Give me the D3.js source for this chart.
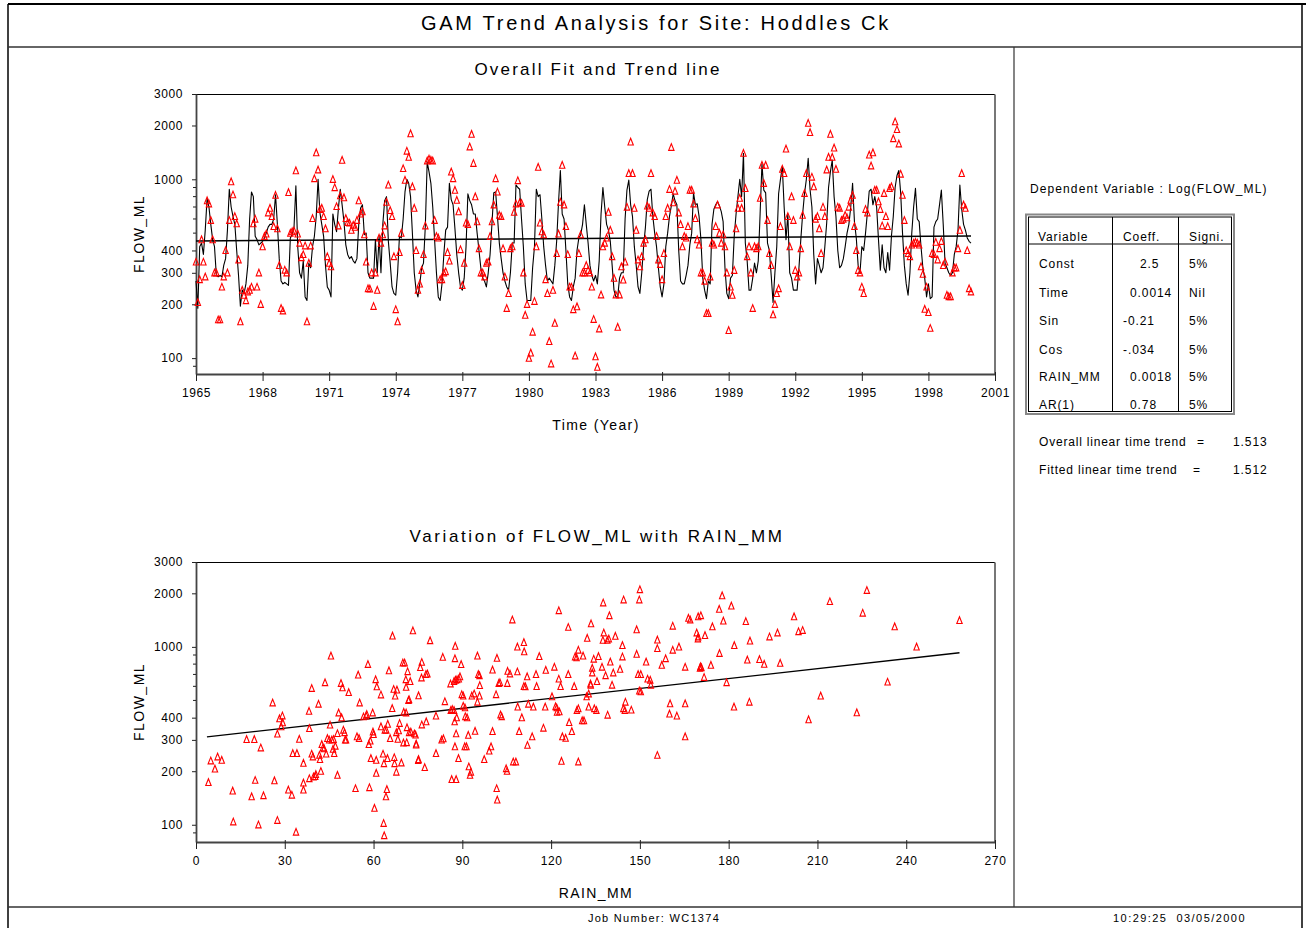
<!DOCTYPE html>
<html><head><meta charset="utf-8">
<script src="https://cdn.jsdelivr.net/npm/d3@7"></script>
<style>
html,body{margin:0;padding:0;background:#fff;}
svg{display:block;font-family:Arial,"Liberation Sans",sans-serif;}
</style></head><body>
<svg id="c" width="1306" height="928"></svg>
<script>
// ---------------- DATA ----------------
const yearTicks = [1965,1968,1971,1974,1977,1980,1983,1986,1989,1992,1995,1998,2001];
const flowTicks = [100,200,300,400,1000,2000,3000];
const flowMinorTicks = [90,500,600,700,800,900];
const rainTicks = [0,30,60,90,120,150,180,210,240,270];
const firstYear = 1965;

// GAM fitted FLOW_ML, one row per year (Jan..Dec), 1965-1999
const fittedByYear = [
[270,190,420,440,380,520,780,700,560,460,420,290],
[285,290,285,330,360,520,880,700,620,560,400,290],
[195,240,230,260,330,600,850,800,480,460,430,440],
[450,470,500,540,560,560,600,820,560,360,270,260],
[265,260,255,470,490,540,920,420,300,280,350,220],
[210,340,320,420,480,620,1000,650,560,480,330,250],
[240,220,640,560,510,690,880,720,580,430,380,360],
[370,350,340,360,560,690,720,490,500,300,280,280],
[280,460,300,480,300,560,760,800,450,340,250,230],
[225,300,480,470,600,850,1000,950,800,500,300,240],
[220,260,320,340,550,1250,1100,950,700,460,300,220],
[210,260,380,520,540,950,770,720,530,380,300,250],
[240,280,420,830,760,720,640,640,500,400,320,280],
[270,250,300,380,560,840,850,620,440,360,300,270],
[250,240,300,440,440,930,900,880,600,420,260,210],
[210,210,320,420,880,800,820,600,420,330,270,280],
[270,260,330,450,740,1120,640,600,400,260,220,210],
[250,280,400,470,490,560,720,560,440,330,290,270],
[290,260,350,640,900,700,560,520,450,330,240,220],
[220,280,300,300,600,870,990,720,620,420,330,250],
[230,300,420,540,770,860,880,620,500,420,320,250],
[220,260,420,500,620,710,830,760,720,400,270,260],
[260,290,330,430,500,840,720,730,620,460,280,240],
[215,270,260,560,680,720,750,710,660,580,320,230],
[215,280,290,480,640,800,1000,800,1400,440,350,240],
[240,280,340,300,350,640,1220,870,840,440,400,290],
[205,300,420,830,1000,1180,700,460,640,300,280,240],
[240,240,320,460,640,830,1000,1310,880,700,380,260],
[360,330,300,320,420,570,900,1100,1280,800,620,400],
[320,330,360,420,500,560,700,950,580,470,330,300],
[420,400,500,650,860,880,720,800,700,460,310,430],
[320,300,390,310,480,620,900,1050,1120,840,500,330],
[260,225,300,500,700,890,600,580,420,320,280,220],
[260,215,220,540,580,600,720,870,560,340,320,300],
[290,300,380,420,520,930,680,560,520,470,450,440]
];

// Observed FLOW_ML, one row per year (Jan..Dec), 1965-1999
const observedByYear = [
[345,205,275,460,345,285,760,730,590,460,300,300],
[164,164,250,285,400,300,590,970,820,620,565,355],
[160,240,225,210,235,240,250,565,600,250,300,200],
[420,480,495,650,690,620,545,815,530,330,190,184],
[311,300,845,500,510,515,1118,495,440,365,380,425],
[160,340,425,605,1010,1410,1130,680,690,620,530,370],
[340,325,1000,900,705,550,810,1280,790,605,575,570],
[520,555,540,590,760,640,660,490,345,245,244,300],
[195,300,240,470,440,490,550,745,930,670,620,370],
[187,160,390,500,1150,990,1440,1330,1800,910,690,400],
[240,260,310,380,550,1270,1300,1280,1270,590,480,470],
[275,275,300,305,390,350,1100,1010,870,765,660,405],
[255,340,570,560,1520,1790,1230,800,580,410,300,300],
[285,340,345,480,580,720,1010,850,630,620,410,285],
[190,230,410,420,655,730,985,740,735,300,174,200],
[100,107,140,208,420,1170,570,510,490,275,230,124],
[93,240,157,385,495,745,1200,720,545,380,250,250],
[187,103,194,385,490,300,300,330,310,300,250,165],
[102,89,146,226,420,440,470,655,520,370,280,226],
[149,226,325,274,345,700,1080,1620,1080,690,520,355],
[325,370,440,460,710,690,1080,650,620,480,355,335],
[275,385,620,690,880,1510,740,860,990,650,560,420],
[480,470,545,870,870,730,605,460,430,300,300,270],
[178,178,285,440,430,545,720,500,440,490,420,300],
[143,250,225,310,530,690,785,690,1400,890,370,420],
[300,190,420,410,420,785,1200,950,1200,590,385,330],
[175,200,230,245,545,1140,1080,1480,620,420,800,590],
[310,285,300,410,630,835,1080,2060,1830,1030,910,600],
[620,530,385,700,620,1130,1330,1790,1330,1500,1140,700],
[690,590,600,630,610,700,765,815,545,400,310,300],
[250,230,680,650,1370,1190,1410,870,870,750,680,550],
[835,620,545,890,910,1690,2100,1900,1580,1070,815,590],
[400,385,370,430,440,445,440,430,325,295,188,250],
[180,147,385,380,445,355,410,450,330,345,225,221],
[221,300,320,320,410,520,1080,720,690,400,245,235]
];

// linear time trend end points [year, flow]
const timeTrend = [[1965, 452], [1999.92, 482]];

// scatter: [RAIN_MM, FLOW_ML]
const rainFlow = [
[4.2,173],[5,229],[6.4,206],[7.3,241],[8.7,231],[12.4,155],[12.6,104],[17.1,302],[18.8,144],[19.7,302],
[20,178],[21.1,100],[21.9,271],[22.8,146],[25.9,485],[26.5,177],[27.5,324],[27.5,106],[28.2,395],[28.8,356],
[29.2,410],[29.3,375],[31.2,157],[32.4,147],[32.7,252],[34.1,252],[33.8,91],[34.9,303],[36.3,222],[36.3,157],
[36.3,172],[38.2,435],[38.3,348],[38.3,182],[39.1,585],[39.1,250],[39.5,241],[39.7,186],[40.3,187],[40.5,192],
[41.4,477],[41.7,246],[41.9,233],[42.2,200],[42.5,283],[42.9,271],[43.3,268],[43.6,630],[44,250],[44.4,306],
[45,300],[45.3,364],[45.6,890],[45.9,300],[46.3,266],[46.5,302],[46.7,252],[47.1,277],[47.8,190],[47.8,326],
[48.2,426],[49,624],[49.2,400],[49.5,590],[49.8,341],[50.2,330],[50.4,300],[50.7,300],[51.6,555],[53.9,160],
[54.4,313],[54.8,696],[55.1,306],[55.3,485],[56.6,405],[57.5,409],[57.7,418],[58.1,798],[58.4,283],[58.6,162],
[58.9,296],[59.1,236],[59.7,426],[59.8,333],[60,322],[60.3,124],[60.7,655],[60.9,231],[60.9,195],[61.1,598],
[62.5,538],[62.5,356],[63.2,250],[63.4,102],[63.5,221],[63.6,87],[63.8,341],[64.2,144],[64.3,341],[64.5,158],
[64.7,236],[64.8,368],[65.2,735],[65.6,306],[66.3,451],[66.4,1153],[66.8,578],[67,239],[67.1,221],[67.3,530],
[67.7,330],[67.7,198],[67.9,573],[68.2,303],[68.5,338],[68.8,372],[69.4,223],[69.9,814],[70.1,289],[70.5,814],
[70.9,655],[71,426],[71.3,352],[71.5,727],[72,506],[72.4,640],[72.6,333],[73.3,1233],[74.2,320],[74.4,281],
[75.2,532],[75.2,233],[75.8,767],[71,594],[71.8,500],[70.2,430],[72,330],[73.8,325],[71.2,290],[74.4,285],
[75.1,230],[77.3,210],[76.3,365],[77.8,380],[76.2,670],[77.7,700],[78.2,705],[76.3,820],[79.1,1085],[81.1,409],
[81.1,252],[83,300],[83.6,305],[83.4,875],[84.1,493],[86,620],[87.2,640],[87.7,650],[88.2,655],[88.8,660],
[86.1,440],[86.6,445],[87.2,440],[87.4,380],[88.1,400],[87.5,860],[87.6,1010],[87.5,275],[87.9,325],[88.7,236],
[86.4,180],[87.9,180],[89.2,680],[89.6,797],[89.8,540],[90.3,530],[90.3,465],[90.9,455],[90.8,275],[91.4,275],
[91,406],[91.6,400],[92,319],[92.2,212],[92.6,190],[92.9,198],[93.2,530],[94,545],[94.3,336],[95.1,890],
[95.4,700],[95.8,690],[95.9,607],[95.8,530],[95.1,490],[97.4,233],[99.1,260],[99.7,275],[100.2,335],[100.2,742],
[101.4,540],[101.7,865],[101.6,160],[101.8,138],[102.3,624],[102.7,630],[102.9,415],[103.3,406],[104.8,207],[105.1,200],
[105.2,624],[105.3,730],[106.1,706],[106.9,1420],[107.2,226],[108.1,226],[108.6,1000],[108.6,725],[108.7,460],[109.2,335],
[110.1,400],[110.8,600],[111.3,598],[110.8,1060],[110.9,940],[111.9,680],[112,280],[112.3,477],[113.6,313],[114,460],
[114.9,700],[115.1,600],[116,884],[117.4,350],[118,460],[118.2,740],[120.3,525],[121.1,770],[121.5,462],[121.9,455],
[122,430],[122.8,432],[122.6,660],[122.6,1600],[123.2,600],[123.5,228],[123.8,313],[124.9,307],[125.8,1290],[125.8,700],
[126.1,376],[127,335],[127.8,600],[128.1,880],[128.6,870],[128.7,440],[129.2,450],[129.2,960],[129.2,226],[130.5,385],
[131.1,385],[130.8,890],[132,525],[132.2,1120],[132.7,545],[132.7,460],[133.3,620],[133.9,760],[133.9,715],[133.4,610],
[133.5,1350],[134.4,855],[134.6,450],[135.3,440],[135.5,640],[136,884],[137.2,770],[137.5,1090],[137.8,1200],[138.4,690],
[139,1090],[139.1,414],[139.5,1110],[139.7,1500],[137.6,1770],[140,824],[140.6,610],[141,715],[141.7,1150],[143.3,750],
[144.1,1020],[144.1,880],[144.4,450],[144.9,440],[144.5,1840],[145.1,490],[147.1,442],[148.9,1250],[148.9,910],[149.4,700],
[150.3,700],[149.8,1840],[150,2100],[149.8,566],[150.3,560],[152.1,824],[152.6,660],[153.5,650],[153.7,610],[155.9,1095],
[155.9,980],[155.9,246],[157.4,790],[158.7,860],[160.2,480],[160,420],[161.1,1310],[161.1,960],[162.5,409],[163.2,1000],
[165.3,770],[165.3,480],[165.3,313],[166.4,1450],[169.2,1200],[169.7,1140],[170.3,760],[169.7,1480],[167,1420],[169.6,1110],
[170.6,1500],[172,1160],[170.5,775],[170.8,765],[171.7,675],[174,790],[174.5,1300],[176.8,1630],[176.9,920],[177.8,1940],
[178.2,1400],[179.3,630],[180.9,1700],[181.9,1020],[181.8,460],[185.8,1390],[186.3,845],[187,490],[187.2,1080],[190.4,850],
[192,800],[193.8,1140],[196.5,1200],[197.4,810],[202.1,1480],[203.6,1220],[205,1240],[207,390],[211.1,530],[214.2,1800],
[223.3,427],[225.3,1550],[226.7,2080],[233.7,635],[236.1,1300],[243.5,1000],[258,1410]
];
// fitted rain relationship end points [RAIN_MM, FLOW_ML]
const rainTrend = [[3.7, 312], [258, 927]];

// right panel
const tableVariables = ["Const","Time","Sin","Cos","RAIN_MM","AR(1)"];
const tableCoeffs = ["2.5","0.0014","-0.21","-.034","0.0018","0.78"];
const tableSignif = ["5%","Nil","5%","5%","5%","5%"];
const overallTrend = "1.513";
const fittedTrend = "1.512";

// ---------------- DRAWING ----------------
const svg = d3.select("#c");
const FONT = 'Arial,"Liberation Sans",sans-serif';
const RED = "#ff0000";

// page frame
const frame = svg.append("g");
frame.append("line").attr("x1",8).attr("x2",1306).attr("y1",4).attr("y2",4).attr("stroke","#000").attr("stroke-width",2);
frame.append("line").attr("x1",8).attr("x2",8).attr("y1",4).attr("y2",928).attr("stroke","#000").attr("stroke-width",1.5);
frame.append("line").attr("x1",1302).attr("x2",1302).attr("y1",4).attr("y2",928).attr("stroke","#000").attr("stroke-width",1.5);
frame.append("line").attr("x1",8).attr("x2",1302).attr("y1",47).attr("y2",47).attr("stroke","#333").attr("stroke-width",1.5);
frame.append("line").attr("x1",1014).attr("x2",1014).attr("y1",47).attr("y2",907).attr("stroke","#333").attr("stroke-width",1.2);
frame.append("line").attr("x1",8).attr("x2",1302).attr("y1",907).attr("y2",907).attr("stroke","#333").attr("stroke-width",1.5);

function txt(x, y, s, size, anchor, ls) {
  const t = svg.append("text").attr("x",x).attr("y",y).text(s)
    .attr("font-size",size).attr("font-family",FONT).attr("fill","#000")
    .attr("text-anchor",anchor||"start").style("white-space","pre");
  if (ls) t.attr("letter-spacing", ls);
  return t;
}

txt(656, 30, "GAM Trend Analysis for Site: Hoddles Ck", 20, "middle", 2.7);
txt(654, 922, "Job Number: WC1374", 11, "middle", 1.3);
txt(1113, 922, "10:29:25  03/05/2000", 11, "start", 1.45);

const triPath = "M0,-3.6L2.7,3.1L-2.7,3.1Z";

function frameRect(x0, x1, y0, y1) {
  svg.append("line").attr("x1",x0).attr("x2",x1).attr("y1",y0).attr("y2",y0).attr("stroke","#000").attr("stroke-width",1.2);
  svg.append("line").attr("x1",x1).attr("x2",x1).attr("y1",y0).attr("y2",y1).attr("stroke","#777").attr("stroke-width",2);
}

function styleAxis(g) {
  g.selectAll("text").attr("font-size",12).attr("font-family",FONT).attr("fill","#000").attr("letter-spacing",0.6);
  g.selectAll("line").attr("stroke","#222");
  g.select(".domain").attr("stroke","#444").attr("stroke-width",1.8);
}

// ===== Top plot =====
const xT = d3.scaleLinear().domain([1965, 2001]).range([196, 995]);
const yT = d3.scaleLog().domain([81.5, 3000]).range([374, 94]);

frameRect(196, 995, 94.5, 374);
const gxT = svg.append("g").attr("transform","translate(0,374)")
  .call(d3.axisBottom(xT).tickValues(yearTicks).tickFormat(d3.format("d")).tickSizeInner(7).tickSizeOuter(0).tickPadding(7));
styleAxis(gxT);
gxT.selectAll(".tick line").attr("y1",-2);
const gyT = svg.append("g").attr("transform","translate(196,0)")
  .call(d3.axisLeft(yT).tickValues(flowTicks).tickFormat(d3.format("d")).tickSizeInner(4).tickSizeOuter(0).tickPadding(9));
styleAxis(gyT);
svg.append("g").selectAll("line").data(flowMinorTicks).join("line")
  .attr("x1",193).attr("x2",196).attr("y1",d=>yT(d)).attr("y2",d=>yT(d)).attr("stroke","#222");

txt(598, 75, "Overall Fit and Trend line", 17, "middle", 2.2);
txt(596, 430, "Time (Year)", 14, "middle", 1.4);
txt(144, 234, "FLOW_ML", 14, "middle", 1.5).attr("transform","rotate(-90,144,234)");

const fittedSeries = [];
const observedSeries = [];
fittedByYear.forEach((row, i) => row.forEach((v, m) => fittedSeries.push([firstYear + i + m/12, v])));
observedByYear.forEach((row, i) => row.forEach((v, m) => observedSeries.push([firstYear + i + m/12, v])));

const lineT = d3.line().x(d=>xT(d[0])).y(d=>yT(d[1]));
svg.append("path").attr("d", lineT(timeTrend)).attr("fill","none").attr("stroke","#000").attr("stroke-width",1.5);
svg.append("path").attr("d", lineT(fittedSeries)).attr("fill","none").attr("stroke","#000").attr("stroke-width",1.1).attr("stroke-linejoin","round");
svg.append("g").selectAll("path").data(observedSeries).join("path")
  .attr("d", triPath).attr("transform", d=>`translate(${xT(d[0])},${yT(d[1])})`)
  .attr("fill","none").attr("stroke",RED).attr("stroke-width",1.1);

// ===== Bottom plot =====
const xB = d3.scaleLinear().domain([0, 270]).range([196, 995]);
const yB = d3.scaleLog().domain([80, 3000]).range([842, 562]);

frameRect(196, 995, 562.5, 842);
const gxB = svg.append("g").attr("transform","translate(0,842)")
  .call(d3.axisBottom(xB).tickValues(rainTicks).tickFormat(d3.format("d")).tickSizeInner(7).tickSizeOuter(0).tickPadding(7));
styleAxis(gxB);
gxB.selectAll(".tick line").attr("y1",-2);
const gyB = svg.append("g").attr("transform","translate(196,0)")
  .call(d3.axisLeft(yB).tickValues(flowTicks).tickFormat(d3.format("d")).tickSizeInner(4).tickSizeOuter(0).tickPadding(9));
styleAxis(gyB);
svg.append("g").selectAll("line").data(flowMinorTicks).join("line")
  .attr("x1",193).attr("x2",196).attr("y1",d=>yB(d)).attr("y2",d=>yB(d)).attr("stroke","#222");

txt(597, 542, "Variation of FLOW_ML with RAIN_MM", 17, "middle", 2.6);
txt(596, 898, "RAIN_MM", 14, "middle", 1.4);
txt(144, 702, "FLOW_ML", 14, "middle", 1.5).attr("transform","rotate(-90,144,702)");

const lineB = d3.line().x(d=>xB(d[0])).y(d=>yB(d[1]));
svg.append("path").attr("d", lineB(rainTrend)).attr("fill","none").attr("stroke","#000").attr("stroke-width",1.3);
svg.append("g").selectAll("path").data(rainFlow).join("path")
  .attr("d", triPath).attr("transform", d=>`translate(${xB(d[0])},${yB(d[1])})`)
  .attr("fill","none").attr("stroke",RED).attr("stroke-width",1.1);

// ===== Right panel =====
txt(1030, 193, "Dependent Variable : Log(FLOW_ML)", 12, "start", 1.1);
svg.append("rect").attr("x",1026).attr("y",214.5).attr("width",208).attr("height",199.5)
  .attr("fill","none").attr("stroke","#888").attr("stroke-width",2);
svg.append("rect").attr("x",1028.5).attr("y",217).attr("width",203).attr("height",194.5)
  .attr("fill","none").attr("stroke","#000").attr("stroke-width",1);
[1112.5, 1178.5].forEach(x => svg.append("line").attr("x1",x).attr("x2",x).attr("y1",217).attr("y2",411.5).attr("stroke","#000"));
svg.append("line").attr("x1",1028.5).attr("x2",1231.5).attr("y1",244).attr("y2",244).attr("stroke","#000");
txt(1038, 241, "Variable", 12, "start", 0.9);
txt(1123, 241, "Coeff.", 12, "start", 0.9);
txt(1189, 241, "Signi.", 12, "start", 0.9);
const rowY = [268, 297, 325, 354, 381, 409];
const coeffX = [1140, 1130, 1123, 1123, 1130, 1130];
tableVariables.forEach((v,i) => {
  txt(1039, rowY[i], v, 12, "start", 0.9);
  txt(coeffX[i], rowY[i], tableCoeffs[i], 12, "start", 0.9);
  txt(1189, rowY[i], tableSignif[i], 12, "start", 0.9);
});
txt(1039, 446, "Overall linear time trend", 12, "start", 0.8);
txt(1197, 446, "=", 12, "start", 0);
txt(1233, 446, overallTrend, 12, "start", 0.9);
txt(1039, 474, "Fitted linear time trend", 12, "start", 0.8);
txt(1193, 474, "=", 12, "start", 0);
txt(1233, 474, fittedTrend, 12, "start", 0.9);
</script>
</body></html>
